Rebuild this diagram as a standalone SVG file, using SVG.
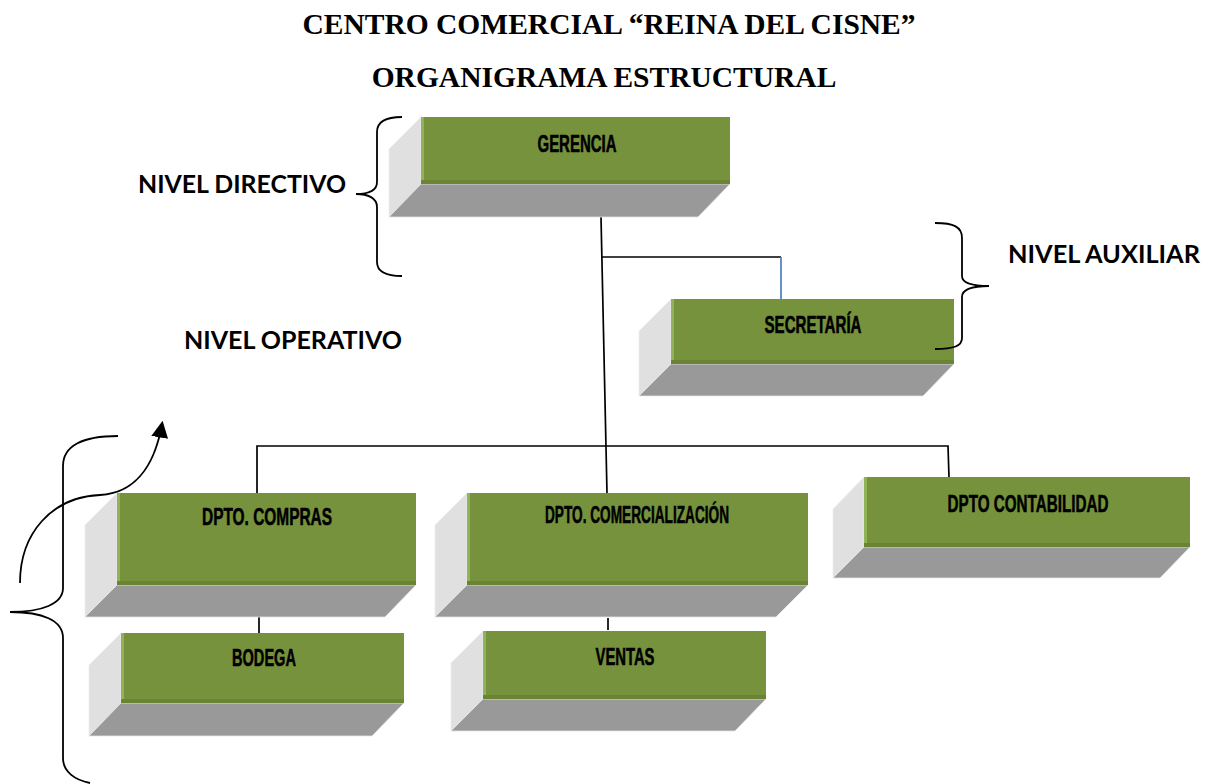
<svg xmlns="http://www.w3.org/2000/svg" width="1218" height="784" viewBox="0 0 1218 784">
<defs>
<style>
.title{font-family:"Liberation Serif","Times New Roman",serif;font-weight:bold;font-size:29.5px;fill:#000;text-anchor:middle}
.lvl{font-family:Lato,"Open Sans","Liberation Sans",sans-serif;font-weight:bold;font-size:24px;fill:#000}
.lbl{font-family:"Liberation Sans",Arial,sans-serif;font-weight:bold;font-size:24.5px;fill:#000;stroke:#000;stroke-width:0.6;text-anchor:middle}
.front{fill:#77923C}
.hl{fill:#8FB356}
.sh{fill:#6A8434}
.side{fill:#E0E0E0;stroke:#EDEDED;stroke-width:0.8}
.bot{fill:#999999;stroke:#E6E6E6;stroke-width:0.8}
.ln{stroke:#000;stroke-width:1.7;fill:none}
.br{stroke:#000;stroke-width:1.8;fill:none}
</style>
<marker id="ah" viewBox="0 0 10 10" refX="8" refY="5" markerWidth="17" markerHeight="17" markerUnits="userSpaceOnUse" orient="auto">
<path d="M0,0 L10,5 L0,10 Z" fill="#000"/>
</marker>
</defs>
<rect width="1218" height="784" fill="#fff"/>

<text class="title" x="609" y="34">CENTRO COMERCIAL “REINA DEL CISNE”</text>
<text class="title" x="604" y="87">ORGANIGRAMA ESTRUCTURAL</text>

<g id="connectors">
<line class="ln" x1="601" y1="217" x2="607" y2="493"/>
<line class="ln" x1="601" y1="257" x2="781" y2="257"/>
<line x1="781" y1="257" x2="781" y2="299" stroke="#4A7EBB" stroke-width="1.7"/>
<polyline class="ln" points="257,493 257,446 948,446 949,477"/>
<line class="ln" x1="259" y1="597" x2="259" y2="633"/>
<line class="ln" x1="608" y1="618" x2="608" y2="630"/>
</g>

<g id="gerencia">
<polygon class="side" points="389,149 421,117 421,184 389,217"/>
<polygon class="bot" points="421,184 730,184 698,217 389,217"/>
<rect class="front" x="421" y="117" width="309" height="67"/>
<rect class="hl" x="421" y="117" width="3" height="67"/>
<rect class="sh" x="421" y="180" width="309" height="4"/>
<text class="lbl" x="577" y="152" textLength="79" lengthAdjust="spacingAndGlyphs">GERENCIA</text>
</g>

<g id="secretaria">
<polygon class="side" points="639,331 671,299 671,364 639,396"/>
<polygon class="bot" points="671,364 954,364 923,396 639,396"/>
<rect class="front" x="671" y="299" width="283" height="65"/>
<rect class="hl" x="671" y="299" width="3" height="65"/>
<rect class="sh" x="671" y="360" width="283" height="4"/>
<text class="lbl" x="813" y="333" textLength="97" lengthAdjust="spacingAndGlyphs">SECRETARÍA</text>
</g>

<g id="compras">
<polygon class="side" points="85,525 117,493 117,585 85,617"/>
<polygon class="bot" points="117,585 416,585 385,617 85,617"/>
<rect class="front" x="117" y="493" width="299" height="92"/>
<rect class="hl" x="117" y="493" width="3" height="92"/>
<rect class="sh" x="117" y="581" width="299" height="4"/>
<text class="lbl" x="267" y="525" textLength="130" lengthAdjust="spacingAndGlyphs">DPTO. COMPRAS</text>
</g>

<g id="bodega">
<polygon class="side" points="89,665 121,633 121,703 89,736"/>
<polygon class="bot" points="121,703 404,703 372,736 89,736"/>
<rect class="front" x="121" y="633" width="283" height="70"/>
<rect class="hl" x="121" y="633" width="3" height="70"/>
<rect class="sh" x="121" y="699" width="283" height="4"/>
<text class="lbl" x="264" y="666" textLength="64" lengthAdjust="spacingAndGlyphs">BODEGA</text>
</g>

<g id="comercializacion">
<polygon class="side" points="435,525 467,493 467,585 435,617"/>
<polygon class="bot" points="467,585 808,585 776,617 435,617"/>
<rect class="front" x="467" y="493" width="341" height="92"/>
<rect class="hl" x="467" y="493" width="3" height="92"/>
<rect class="sh" x="467" y="581" width="341" height="4"/>
<text class="lbl" x="637" y="523" textLength="184" lengthAdjust="spacingAndGlyphs">DPTO. COMERCIALIZACIÓN</text>
</g>

<g id="ventas">
<polygon class="side" points="451,663 483,631 483,699 451,731"/>
<polygon class="bot" points="483,699 766,699 735,731 451,731"/>
<rect class="front" x="483" y="631" width="283" height="68"/>
<rect class="hl" x="483" y="631" width="3" height="68"/>
<rect class="sh" x="483" y="695" width="283" height="4"/>
<text class="lbl" x="625" y="665" textLength="59" lengthAdjust="spacingAndGlyphs">VENTAS</text>
</g>

<g id="contabilidad">
<polygon class="side" points="833,509 864,477 864,547 833,578"/>
<polygon class="bot" points="864,547 1190,547 1160,578 833,578"/>
<rect class="front" x="864" y="477" width="326" height="70"/>
<rect class="hl" x="864" y="477" width="3" height="70"/>
<rect class="sh" x="864" y="543" width="326" height="4"/>
<text class="lbl" x="1028" y="512" textLength="161" lengthAdjust="spacingAndGlyphs">DPTO CONTABILIDAD</text>
</g>

<g id="nivel-directivo">
<path class="br" d="M402,117 C386,117 377,121 377,132 L377,182 C377,191 368,194 356,194 C368,194 377,198 377,207 L377,262 C377,272 386,276 402,276"/>
<text class="lvl" x="138" y="193" textLength="208" lengthAdjust="spacingAndGlyphs">NIVEL DIRECTIVO</text>
</g>

<g id="nivel-auxiliar">
<path class="br" d="M935,223 C954,223 962,227 962,238 L962,276 C962,283 972,286 989,286 C972,286 962,289 962,297 L962,338 C962,346 954,349 935,349"/>
<text class="lvl" x="1008" y="263" textLength="192" lengthAdjust="spacingAndGlyphs">NIVEL AUXILIAR</text>
</g>

<g id="nivel-operativo">
<text class="lvl" x="184" y="349" textLength="218" lengthAdjust="spacingAndGlyphs">NIVEL OPERATIVO</text>
<path class="br" d="M118,436 C82,436 63,446 63,466 L63,588 C63,604 42,612 10,612 C42,612 63,620 63,638 L63,758 C63,772 75,780 90,783"/>
<path class="br" d="M20,583 C20,533 52,497 100,495 C140,493 156,458 162,424" marker-end="url(#ah)"/>
</g>
</svg>
